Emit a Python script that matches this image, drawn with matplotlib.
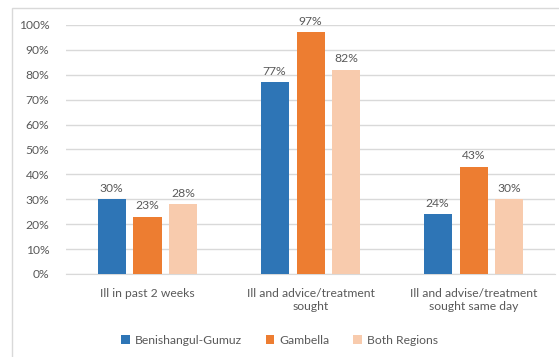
import matplotlib
matplotlib.use("Agg")
import matplotlib.pyplot as plt
from matplotlib.patches import Rectangle
import numpy as np

categories = ["Ill in past 2 weeks", "Ill and advice/treatment\nsought", "Ill and advise/treatment\nsought same day"]
series = ["Benishangul-Gumuz", "Gambella", "Both Regions"]
values = {
    "Benishangul-Gumuz": [30, 77, 24],
    "Gambella": [23, 97, 43],
    "Both Regions": [28, 82, 30],
}
colors = ["#2E75B6", "#ED7D31", "#F8CBAD"]
text_grey = "#595959"

plt.rcParams["font.family"] = ["Lato", "DejaVu Sans"]
fs = 8.7

fig = plt.figure(figsize=(5.59, 3.57), dpi=100)
ax = fig.add_axes([0.118, 0.2325, 0.875, 0.6975])

# outer chart frame
fig.patches.append(Rectangle((12 / 559, -0.1), 1.2, 1 - 8 / 357 + 0.1, transform=fig.transFigure,
                             fill=False, edgecolor="#D9D9D9", linewidth=1.0))

x = np.arange(len(categories))
width = 0.172
step = 0.22
for i, (name, c) in enumerate(zip(series, colors)):
    vals = values[name]
    bars = ax.bar(x + (i - 1) * step, vals, width, color=c, label=name, zorder=3)
    for b, v in zip(bars, vals):
        ax.text(b.get_x() + b.get_width() / 2, v + 2.2, f"{v}%", ha="center", va="bottom",
                fontsize=fs, color=text_grey)

ax.set_xlim(-0.5, 2.5)
ax.set_ylim(0, 100)
ax.set_yticks(range(0, 101, 10))
ax.set_yticklabels([f"{t}%" for t in range(0, 101, 10)])
ax.set_xticks(x)
ax.set_xticklabels(categories)
ax.grid(axis="y", color="#D9D9D9", linewidth=1.0, zorder=0)
for s in ["top", "right", "left"]:
    ax.spines[s].set_visible(False)
ax.spines["bottom"].set_color("#D9D9D9")
ax.tick_params(axis="both", length=0, colors=text_grey, labelsize=fs)
ax.tick_params(axis="y", pad=12)
ax.tick_params(axis="x", pad=10)

fig.legend(loc="center", bbox_to_anchor=(0.5, 1 - 340 / 357), ncol=3, frameon=False,
           fontsize=fs, labelcolor=text_grey, handlelength=0.7, handleheight=0.7,
           handletextpad=0.4, columnspacing=2.0)

fig.savefig("out.png", dpi=100)
